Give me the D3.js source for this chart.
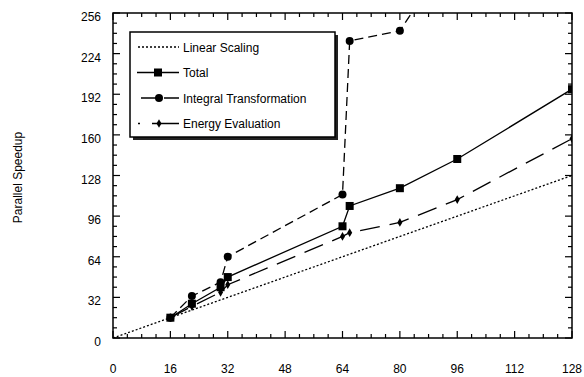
<!DOCTYPE html>
<html>
<head>
<meta charset="utf-8">
<script src="https://cdn.jsdelivr.net/npm/d3@7"></script>
<style>
  body { margin: 0; background: #fff; }
  text { font-family: Arial, "Liberation Sans", sans-serif; fill: #000; }
</style>
</head>
<body>
<div id="chart"></div>
<script>
const W = 584, H = 377
const M = {LEFT: 113, RIGHT: 12, TOP: 13, BOTTOM: 39}

// data: [processors, speedup]
const linearScaling = [[0, 0], [128, 128]]
const total = [[16, 16], [22, 27], [30, 40], [32, 48], [64, 88], [66, 104], [80, 118], [96, 141], [128, 196]]
const integral = [[16, 16], [22, 33], [30, 44], [32, 64], [64, 113], [66, 234], [80, 242], [96, 310]]
const energy = [[16, 16], [22, 25], [30, 36], [32, 42], [64, 80], [66, 83], [80, 91], [96, 109], [128, 157]]
const xTicks = [0, 16, 32, 48, 64, 80, 96, 112, 128]
const yTicks = [0, 32, 64, 96, 128, 160, 192, 224, 256]
const legendNames = ["Linear Scaling", "Total", "Integral Transformation", "Energy Evaluation"]

const svg = d3.select("#chart").append("svg")
    .attr("width", W)
    .attr("height", H)

const x = d3.scaleLinear().domain([0, 128]).range([M.LEFT, W - M.RIGHT])
const y = d3.scaleLinear().domain([0, 256]).range([H - M.BOTTOM, M.TOP])

svg.append("clipPath").attr("id", "clip")
  .append("rect")
    .attr("x", x(0)).attr("y", y(256))
    .attr("width", x(128) - x(0)).attr("height", y(0) - y(256))

// ticks, all pointing inward
const minorX = d3.range(0, 129, 4), minorY = d3.range(0, 257, 8)
const tk = svg.append("g").attr("stroke", "#000").attr("stroke-width", 1.2)
minorX.forEach(v => {
  const len = v % 16 == 0 ? 7 : 4
  tk.append("line").attr("x1", x(v)).attr("x2", x(v)).attr("y1", y(0)).attr("y2", y(0) - len)
  tk.append("line").attr("x1", x(v)).attr("x2", x(v)).attr("y1", y(256)).attr("y2", y(256) + len)
})
minorY.forEach(v => {
  const len = v % 32 == 0 ? 7 : 4
  tk.append("line").attr("y1", y(v)).attr("y2", y(v)).attr("x1", x(0)).attr("x2", x(0) + len)
  tk.append("line").attr("y1", y(v)).attr("y2", y(v)).attr("x1", x(128)).attr("x2", x(128) - len)
})

svg.append("rect")
    .attr("x", x(0)).attr("y", y(256))
    .attr("width", x(128) - x(0)).attr("height", y(0) - y(256))
    .attr("fill", "none").attr("stroke", "#000").attr("stroke-width", 1.5)

svg.append("g").selectAll("text").data(xTicks).join("text")
    .attr("x", d => x(d)).attr("y", H - 4)
    .attr("text-anchor", "middle").attr("font-size", 12)
    .text(d => d)

svg.append("g").selectAll("text").data(yTicks).join("text")
    .attr("x", x(0) - 12).attr("y", d => y(d) + 8)
    .attr("text-anchor", "end").attr("font-size", 12)
    .text(d => d)

svg.append("text")
    .attr("transform", `translate(22, ${y(128) + 2}) rotate(-90)`)
    .attr("text-anchor", "middle").attr("font-size", 12)
    .text("Parallel Speedup")

const line = d3.line().x(d => x(d[0])).y(d => y(d[1]))
const plot = svg.append("g").attr("clip-path", "url(#clip)")

plot.append("path").datum(linearScaling).attr("d", line)
    .attr("fill", "none").attr("stroke", "#000").attr("stroke-width", 1.3).attr("stroke-dasharray", "2,2")
plot.append("path").datum(energy).attr("d", line)
    .attr("fill", "none").attr("stroke", "#000").attr("stroke-width", 1.3).attr("stroke-dasharray", "20,10")
plot.append("path").datum(integral).attr("d", line)
    .attr("fill", "none").attr("stroke", "#000").attr("stroke-width", 1.3).attr("stroke-dasharray", "9,5")
plot.append("path").datum(total).attr("d", line)
    .attr("fill", "none").attr("stroke", "#000").attr("stroke-width", 1.3)

const diamond = d3.symbol().type(d3.symbolDiamond).size(22)
plot.append("g").selectAll("path").data(energy).join("path")
    .attr("d", diamond).attr("transform", d => `translate(${x(d[0])},${y(d[1])})`)
plot.append("g").selectAll("circle").data(integral).join("circle")
    .attr("cx", d => x(d[0])).attr("cy", d => y(d[1])).attr("r", 4)
plot.append("g").selectAll("rect").data(total).join("rect")
    .attr("x", d => x(d[0]) - 4).attr("y", d => y(d[1]) - 4).attr("width", 8).attr("height", 8)

// legend
const lg = svg.append("g").attr("transform", "translate(130,32)")
lg.append("rect").attr("x", 3).attr("y", 3).attr("width", 205).attr("height", 105).attr("fill", "#222")
lg.append("rect").attr("width", 205).attr("height", 105)
    .attr("fill", "#fff").attr("stroke", "#000").attr("stroke-width", 1.5)

const rowY = i => 15 + i * 25.5
const styles = [
  {dash: "2,2", x1: 8},
  {dash: null, x1: 7},
  {dash: "15,8", x1: 11},
  {dash: "2,12,30", x1: 8}
]
legendNames.forEach((name, i) => {
  const row = lg.append("g").attr("transform", `translate(0,${rowY(i)})`)
  row.append("line").attr("x1", styles[i].x1).attr("x2", 49).attr("y1", 0).attr("y2", 0)
      .attr("stroke", "#000").attr("stroke-width", 1.5)
      .attr("stroke-dasharray", styles[i].dash)
  if (i == 1) row.append("rect").attr("x", 24).attr("y", -4).attr("width", 8).attr("height", 8)
  if (i == 2) row.append("circle").attr("cx", 29).attr("cy", 0).attr("r", 4)
  if (i == 3) row.append("path").attr("d", diamond).attr("transform", "translate(29,0)")
  row.append("text").attr("x", 53).attr("y", 4.5).attr("font-size", 12).text(name)
})
</script>
</body>
</html>
